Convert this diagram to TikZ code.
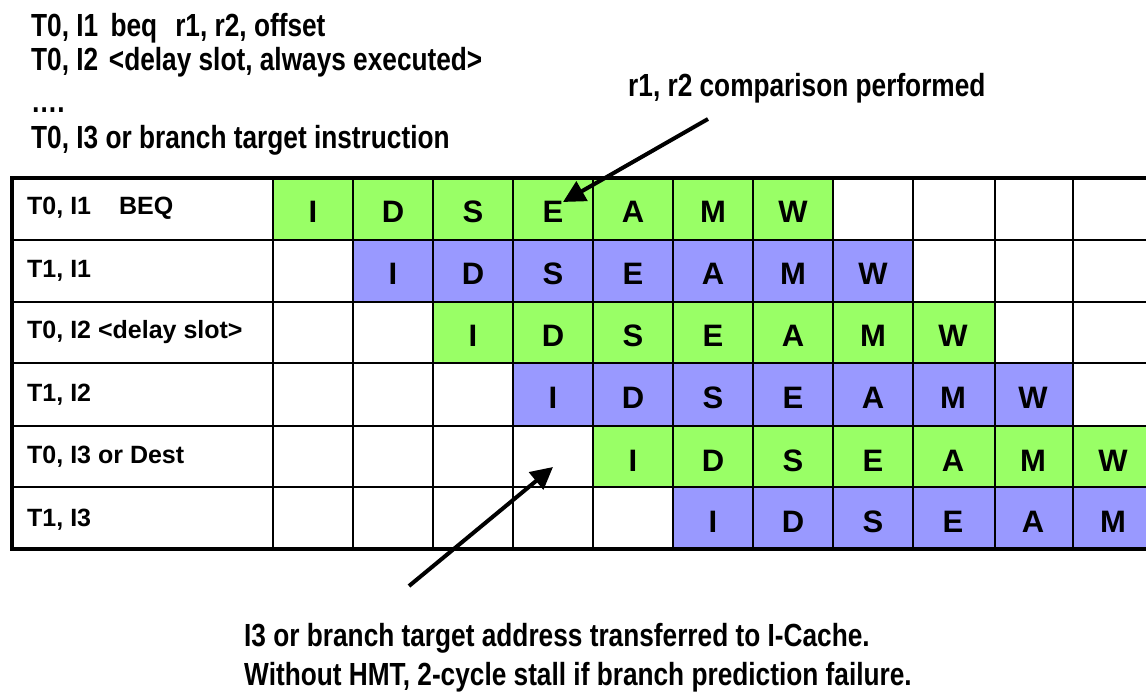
\documentclass[tikz,border=0pt]{standalone}
\usepackage{fontspec}
\setmainfont{Liberation Sans}
\usetikzlibrary{arrows.meta}
\definecolor{pgreen}{RGB}{153,255,102}
\definecolor{pblue}{RGB}{153,153,255}
\newcommand\narrowtxt[1]{\scalebox{0.82}[1]{#1}}
\tikzset{
  annot/.style={anchor=base west, inner sep=0pt, font=\fontsize{32}{36}\selectfont\bfseries},
  rowlabel/.style={anchor=base west, inner sep=0pt, font=\fontsize{25}{30}\selectfont\bfseries},
  stage/.style={anchor=base, inner sep=0pt, font=\fontsize{31}{36}\selectfont\bfseries},
  pointer/.style={line width=4pt, -{Triangle[length=22pt,width=22pt]}},
  gridline/.style={line width=2pt},
  frame/.style={line width=4.5pt, line join=miter},
}
\begin{document}
\begin{tikzpicture}[x=1pt,y=-1pt]
\useasboundingbox (0,0) rectangle (1146,692);
% top text
\node[annot] (t1) at (31,37) {\narrowtxt{T0, I1\hspace{15pt}beq\hspace{22pt}r1, r2, offset}};
\node[annot] (t2) at (31,71) {\narrowtxt{T0, I2\hspace{13pt}<delay slot, always executed>}};
\node[annot] (t3) at (31,113) {\narrowtxt{….}};
\node[annot] (t4) at (31,149) {\narrowtxt{T0, I3 or branch target instruction}};
\node[annot] (cmp) at (628,97) {\narrowtxt{r1, r2 comparison performed}};
\node[annot] (b1) at (244,646) {\narrowtxt{I3 or branch target address transferred to I-Cache.}};
\node[annot] (b2) at (244,685) {\narrowtxt{Without HMT, 2-cycle stall if branch prediction failure.}};
% fills
\fill[pgreen] (273,178) rectangle (833,240);
\fill[pblue] (353,240) rectangle (913,302);
\fill[pgreen] (433,302) rectangle (995,363);
\fill[pblue] (513,363) rectangle (1073,426);
\fill[pgreen] (593,426) rectangle (1153,487);
\fill[pblue] (673,487) rectangle (1153,549);
% grid
\foreach \y in {240,302,363,426,487}{\draw[gridline] (12,\y) -- (1153,\y);}
\foreach \x in {273,353,433,513,593,673,753,833,913,995,1073}{\draw[gridline] (\x,178) -- (\x,549);}
\draw[frame] (1153,178) -- (12,178) -- (12,549) -- (1153,549);
% row labels
\node[rowlabel] (l1) at (27,215) {T0, I1\hspace{28pt}BEQ};
\node[rowlabel] (l2) at (27,278) {T1, I1};
\node[rowlabel] (l3) at (27,339) {T0, I2 <delay slot>};
\node[rowlabel] (l4) at (27,402) {T1, I2};
\node[rowlabel] (l5) at (27,463) {T0, I3 or Dest};
\node[rowlabel] (l6) at (27,526) {T1, I3};
% stages
\foreach \r/\y in {1/223,2/285,3/347,4/409,5/471,6/532}{
  \foreach \L [count=\k from 0] in {I,D,S,E,A,M,W}{
    \pgfmathtruncatemacro\c{\r+\k}
    \ifnum\c<12 \node[stage] (s\r\L) at ({313+80*(\c-1)},\y) {\L};\fi
  }
}
% arrows
\coordinate (a1s) at (708,119);
\coordinate (a1e) at (563,202);
\coordinate (a2s) at (409,586);
\coordinate (a2e) at (553,467);
\draw[pointer] (a1s) -- (a1e);
\draw[pointer] (a2s) -- (a2e);
\end{tikzpicture}
\end{document}
